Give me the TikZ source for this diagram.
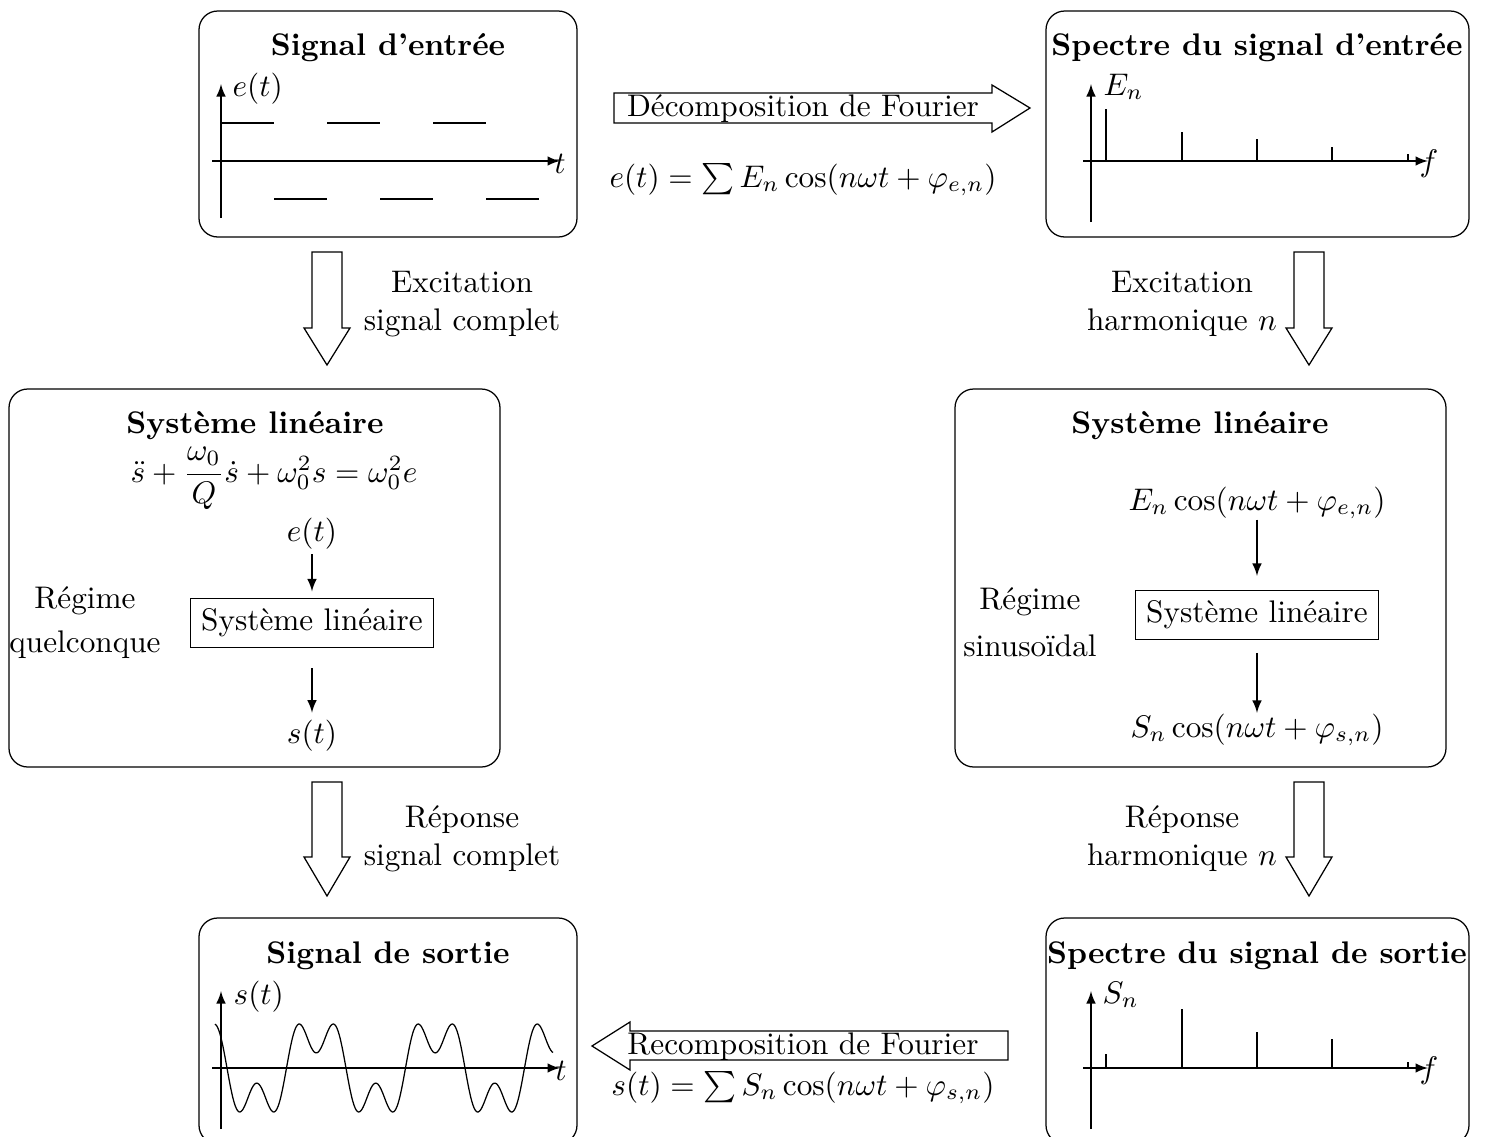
\documentclass[tikz,border=0pt]{standalone}
\usepackage{amsmath}
\usetikzlibrary{arrows.meta}
\begin{document}
\begin{tikzpicture}[x=0.32pt,y=-0.32pt,
  panel/.style={draw,rounded corners=6pt},
  ax/.style={-latex},
  flow/.style={-latex},
  ttl/.style={font=\bfseries,anchor=base},
  big/.style={draw,line join=miter},
  sysbox/.style={draw},
  lbl/.style={inner sep=0pt},
  side/.style={align=center,anchor=base}]
\useasboundingbox (0,0) rectangle (1485,1137);

% ---------- Panel A : input signal
\draw[panel] (199,11) rectangle (577,237);
\node[ttl] (tA) at (388,55) {Signal d'entrée};
\draw[ax] (221,218) -- (221,84);
\draw[ax] (212,161) -- (560,161);
\node[lbl,anchor=base west] (eA) at (232,96) {$e(t)$};
\node[lbl] (tAx) at (560,164) {$t$};
\foreach \a in {221,327,433} \draw (\a,123) -- ++(53,0);
\foreach \a in {274,380,486} \draw (\a,199) -- ++(53,0);

% ---------- Panel B : input spectrum
\draw[panel] (1046,11) rectangle (1469,237);
\node[ttl] (tB) at (1257,55) {Spectre du signal d'entrée};
\draw[ax] (1091,222) -- (1091,84);
\draw[ax] (1083,161) -- (1428,161);
\node[lbl,anchor=base west] (EB) at (1103,95) {$E_n$};
\node[lbl] (fB) at (1429,164) {$f$};
\foreach \a/\h in {1106/52,1182/29,1257/22,1332/14,1408/7} \draw (\a,161) -- ++(0,-\h);

% ---------- Decomposition arrow
\draw[big] (614,93) -- (992,93) -- (992,85) -- (1030,108) -- (992,132) -- (992,123) -- (614,123) -- cycle;
\node (dec) at (803,109) {Décomposition de Fourier};
\node (eqe) at (803,180) {$e(t)=\sum E_n\cos(n\omega t+\varphi_{e,n})$};

% ---------- Down arrows row 1
\draw[big] (312,252) -- (342,252) -- (342,328) -- (350,328) -- (327,365) -- (304,328) -- (312,328) -- cycle;
\node[side] (exL) at (462,330) {Excitation\\signal complet};
\draw[big] (1294,252) -- (1324,252) -- (1324,328) -- (1332,328) -- (1309,365) -- (1286,328) -- (1294,328) -- cycle;
\node[side] (exR) at (1182,330) {Excitation\\harmonique $n$};

% ---------- Panel C : linear system, any regime
\draw[panel] (9,389) rectangle (500,767);
\node[ttl] (tC) at (255,433) {Système linéaire};
\node[anchor=base,inner sep=0pt] (eqC) at (274,482) {$\ddot s+\dfrac{\omega_0}{Q}\dot s+\omega_0^2 s=\omega_0^2 e$};
\node[lbl,anchor=base] (inC) at (312,541) {$e(t)$};
\node[sysbox] (sysC) at (312,623) {Système linéaire};
\node[lbl,anchor=base] (outC) at (312,743) {$s(t)$};
\draw[flow,shorten <=1.5pt,shorten >=2pt] (inC) -- (sysC);
\draw[flow,shorten <=6.4pt,shorten >=2pt] (sysC) -- (outC);
\node[side] (rC) at (85,652) {Régime\\[2pt]quelconque};

% ---------- Panel D : linear system, sinusoidal regime
\draw[panel] (955,389) rectangle (1446,767);
\node[ttl] (tD) at (1200,433) {Système linéaire};
\node[lbl,anchor=base] (inD) at (1257,510) {$E_n\cos(n\omega t+\varphi_{e,n})$};
\node[sysbox] (sysD) at (1257,615) {Système linéaire};
\node[lbl,anchor=base] (outD) at (1257,737) {$S_n\cos(n\omega t+\varphi_{s,n})$};
\draw[flow,shorten >=4.4pt] (inD) -- (sysD);
\draw[flow,shorten <=4pt] (sysD) -- (outD);
\node[side] (rD) at (1030,656) {Régime\\[3pt]sinusoïdal};

% ---------- Down arrows row 2
\draw[big] (312,782) -- (342,782) -- (342,857) -- (350,857) -- (327,896) -- (304,857) -- (312,857) -- cycle;
\node[side] (reL) at (462,865) {Réponse\\signal complet};
\draw[big] (1294,782) -- (1324,782) -- (1324,857) -- (1332,857) -- (1309,896) -- (1286,857) -- (1294,857) -- cycle;
\node[side] (reR) at (1182,865) {Réponse\\harmonique $n$};

% ---------- Panel E : output signal
\draw[panel] (199,918) rectangle (577,1144);
\node[ttl] (tE) at (388,963) {Signal de sortie};
\draw[ax] (221,1129) -- (221,991);
\draw[ax] (212,1068) -- (560,1068);
\node[lbl,anchor=base west] (sE) at (233,1004) {$s(t)$};
\node[lbl] (tEx) at (561,1071) {$t$};
\draw plot[domain=215:553,samples=300,smooth] (\x,{1068-37.8*(sin(180+(\x-227)/119*360)+0.6*sin(3*(180+(\x-227)/119*360)))});

% ---------- Panel F : output spectrum
\draw[panel] (1046,918) rectangle (1469,1144);
\node[ttl] (tF) at (1257,963) {Spectre du signal de sortie};
\draw[ax] (1091,1129) -- (1091,991);
\draw[ax] (1083,1068) -- (1428,1068);
\node[lbl,anchor=base west] (SF) at (1102,1003) {$S_n$};
\node[lbl] (fF) at (1429,1071) {$f$};
\foreach \a/\h in {1106/14,1182/59,1257/36,1332/29,1408/6} \draw (\a,1068) -- ++(0,-\h);

% ---------- Recomposition arrow
\draw[big] (1008,1031) -- (630,1031) -- (630,1022) -- (592,1046) -- (630,1070) -- (630,1060) -- (1008,1060) -- cycle;
\node (rec) at (803,1047) {Recomposition de Fourier};
\node (eqs) at (803,1088) {$s(t)=\sum S_n\cos(n\omega t+\varphi_{s,n})$};
\end{tikzpicture}
\end{document}
